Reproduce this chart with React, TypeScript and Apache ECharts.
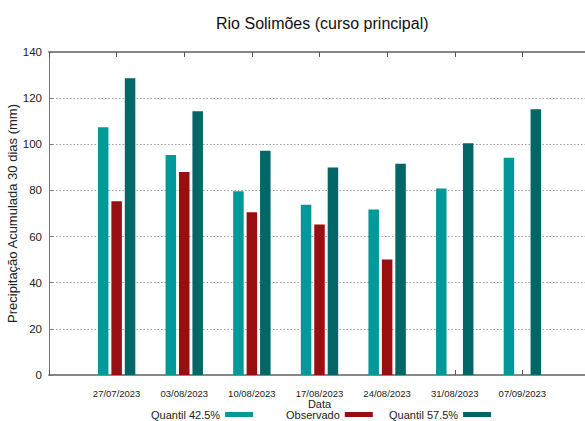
import React, { useEffect, useRef } from "react";
import * as echarts from "echarts";

const dates = ["27/07/2023", "03/08/2023", "10/08/2023", "17/08/2023", "24/08/2023", "31/08/2023", "07/09/2023"];
const quantil425 = [107.4, 95.4, 79.6, 73.8, 71.7, 80.8, 94.2];
const observado: (number | null)[] = [75.3, 88.0, 70.5, 65.2, 50.1, null, null];
const quantil575 = [128.6, 114.3, 97.2, 89.9, 91.6, 100.4, 115.2];
const yTicks = [0, 20, 40, 60, 80, 100, 120, 140];

const SANS = "'Liberation Sans', Arial, sans-serif";

const toPairs = (arr: (number | null)[]) =>
  arr.map((v, i) => (v === null ? null : [i + 1, v])).filter((p) => p !== null);

export default function App() {
  const ref = useRef<HTMLDivElement>(null);
  useEffect(() => {
    if (!ref.current) return;
    const chart = echarts.init(ref.current, undefined, { renderer: "svg" });
    const legendBase = {
      orient: "horizontal" as const,
      align: "right" as const,
      icon: "rect",
      itemWidth: 28,
      itemHeight: 5,
      padding: 0,
      top: 409,
      textStyle: { fontFamily: SANS, fontSize: 11, color: "#222" },
    };
    chart.setOption({
      animation: false,
      backgroundColor: "#ffffff",
      title: {
        text: "Rio Solimões (curso principal)",
        left: 211,
        top: 10,
        textStyle: { fontFamily: SANS, fontSize: 16, fontWeight: "normal", color: "#111" },
      },
      legend: [
        { ...legendBase, left: 151, data: ["Quantil 42.5%"] },
        { ...legendBase, left: 286, data: ["Observado"] },
        { ...legendBase, left: 389, data: ["Quantil 57.5%"] },
      ],
      grid: { left: 49, right: -5, top: 52, bottom: 46, containLabel: false, outerBoundsMode: "none" },
      xAxis: [
        {
          type: "value",
          min: 0,
          max: 8,
          interval: 1,
          position: "bottom",
          name: "Data",
          nameLocation: "middle",
          nameGap: 23,
          nameMoveOverlap: false,
          nameTextStyle: { fontFamily: SANS, fontSize: 11, color: "#222" },
          axisLine: { show: true, lineStyle: { color: "#888", width: 2 } },
          axisTick: { show: true, inside: true, length: 5, lineStyle: { color: "#555" } },
          axisLabel: {
            margin: 13,
            fontFamily: SANS,
            fontSize: 9.5,
            color: "#222",
            formatter: (v: number) => (Number.isInteger(v) && v >= 1 && v <= dates.length ? dates[v - 1] : ""),
          },
          splitLine: { show: false },
        },
        {
          type: "value",
          min: 0,
          max: 8,
          interval: 1,
          position: "top",
          axisLine: { show: true, lineStyle: { color: "#888", width: 2 } },
          axisTick: { show: true, inside: true, length: 5, lineStyle: { color: "#555" } },
          axisLabel: { show: false },
          splitLine: { show: false },
        },
      ],
      yAxis: {
        type: "value",
        min: yTicks[0],
        max: yTicks[yTicks.length - 1],
        interval: 20,
        name: "Precipitação Acumulada 30 dias (mm)",
        nameLocation: "middle",
        nameRotate: 90,
        nameGap: 30,
        nameMoveOverlap: false,
        nameTextStyle: { fontFamily: SANS, fontSize: 13, color: "#222" },
        axisLine: { show: true, lineStyle: { color: "#777", width: 1 } },
        axisTick: { show: true, inside: true, length: 4, lineStyle: { color: "#777" } },
        axisLabel: { margin: 7, fontFamily: SANS, fontSize: 11.5, color: "#222" },
        splitLine: { show: true, lineStyle: { color: "#a0a0a0", type: [1.5, 2], width: 1 } },
      },
      series: [
        {
          name: "Quantil 42.5%",
          type: "bar",
          xAxisIndex: 0,
          data: toPairs(quantil425),
          barWidth: 10.5,
          barGap: "28%",
          itemStyle: { color: "#009999" },
        },
        {
          name: "Observado",
          type: "bar",
          xAxisIndex: 0,
          data: toPairs(observado),
          barWidth: 10.5,
          barGap: "28%",
          itemStyle: { color: "#990e10" },
        },
        {
          name: "Quantil 57.5%",
          type: "bar",
          xAxisIndex: 0,
          data: toPairs(quantil575),
          barWidth: 10.5,
          barGap: "28%",
          itemStyle: { color: "#006666" },
        },
      ],
    });
    return () => chart.dispose();
  }, []);
  return (
    <div
      ref={ref}
      style={{ position: "fixed", left: 0, top: 0, width: 585, height: 421, background: "#fff" }}
    />
  );
}
